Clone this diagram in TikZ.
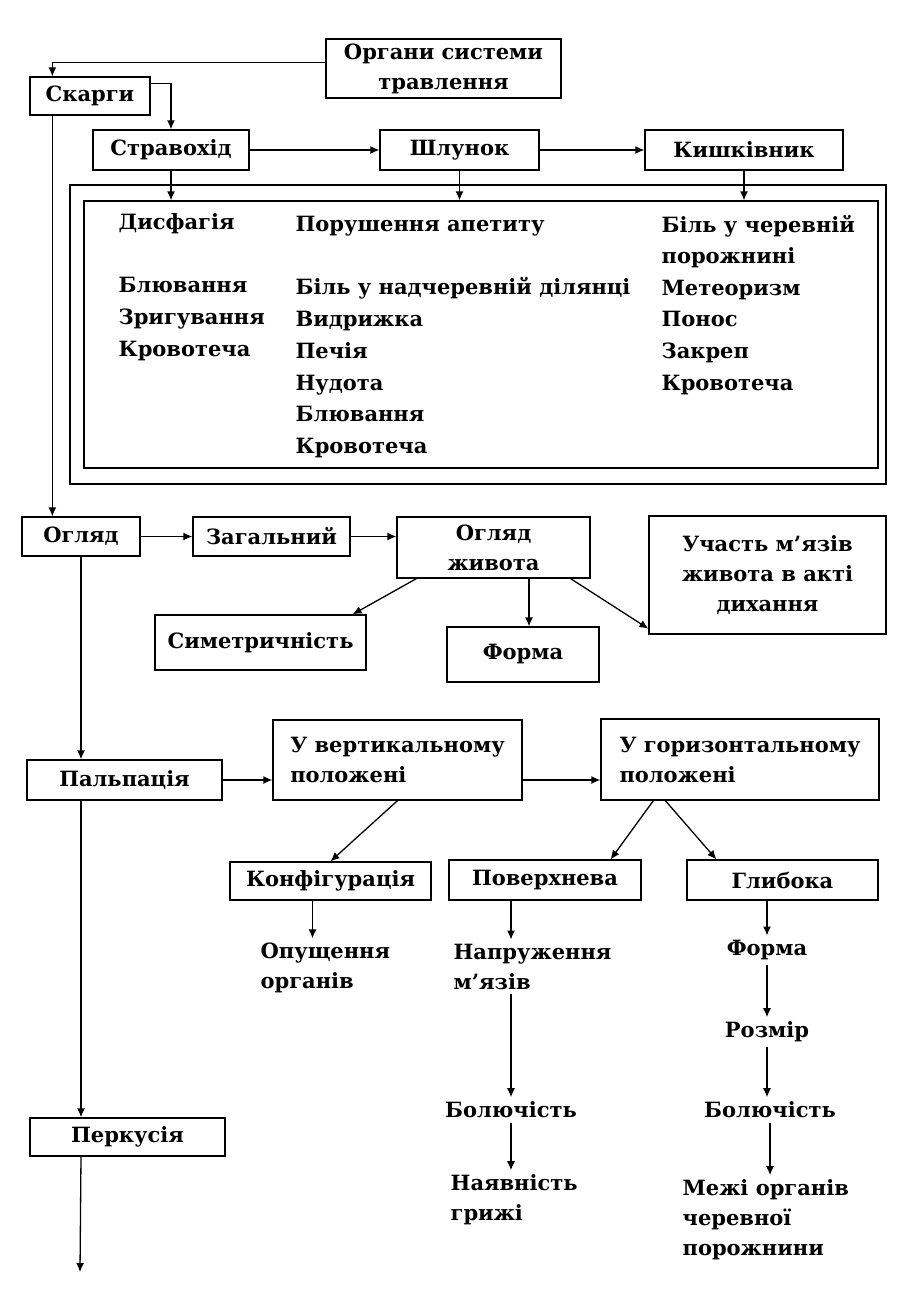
\documentclass[tikz,border=0pt]{standalone}
\usepackage{fontspec}
\setmainfont{DejaVu Serif}
\usetikzlibrary{positioning,calc,arrows.meta}
\tikzset{
my font/.style={font=\bfseries\fontsize{10.5}{15}\selectfont},
my box/.style 2 args={draw,my font,align=center,minimum width=#1*0.5pt,minimum height=#2*0.5pt,inner sep=0pt},
my text/.style={my font,align=left,inner sep=2pt},
my line/.style={my font,inner sep=0pt,anchor=base west},
diagram/.style={
  x=0.5pt,y=-0.5pt,
  line width=0.65pt,
  >={Latex[length=4.5pt,width=4pt]}
}
}
\begin{document}
\begin{tikzpicture}[diagram]
\useasboundingbox (0,0) rectangle (912,1296);

% complaints
\node[my box={235}{59}]  (organy)  at (443.5,68.5) {Органи системи\\травлення};
\node[my box={120}{38}]  (skarhy)  at (90,96)      {Скарги};
\node[my box={156}{40}]  (strav)   at (171,150)    {Стравохід};
\node[my box={159}{40}]  (shlunok) at (459.5,150)  {Шлунок};
\node[my box={198}{40}]  (kyshk)   at (744,150)    {Кишківник};
\node[draw,minimum width=408pt,minimum height=149.5pt] (outer) at (478,334.5) {};
\node[draw,minimum width=397pt,minimum height=133.5pt] (inner) at (481,334.5) {};

\foreach \n/\t in {0/Дисфагія,2/Блювання,3/Зригування,4/Кровотеча}
  \node[my line] (stravtxt-\n) at (118,{229+31.8*\n}) {\t};
\foreach \n/\t in {0/Порушення апетиту,2/Біль у надчеревній ділянці,3/Видрижка,4/Печія,5/Нудота,6/Блювання,7/Кровотеча}
  \node[my line] (shltxt-\n) at (295,{231+31.8*\n}) {\t};
\foreach \n/\t in {0/Біль у черевній,1/порожнині,2/Метеоризм,3/Понос,4/Закреп,5/Кровотеча}
  \node[my line] (kyshtxt-\n) at (661,{232+31.6*\n}) {\t};

\coordinate (spine) at ($(skarhy.south west)+(23,0)$);
\draw[->] ($(organy.west)+(0,-6)$) -| ($(skarhy.north west)+(23,0)$);
\draw[->] ($(skarhy.north east)+(0,7)$) -| (strav.north);
\draw[->] (strav) -- (shlunok);
\draw[->] (shlunok) -- (kyshk);
\draw[->] (strav.south) -- (strav.south |- inner.north);
\draw[->] (shlunok.south) -- (shlunok.south |- inner.north);
\draw[->] (kyshk.south) -- (kyshk.south |- inner.north);

% inspection
\node[my box={118}{39}]  (ohlyad) at (81,536.5)    {Огляд};
\node[my box={157}{39}]  (zahal)  at (271.5,536.5) {Загальний};
\node[my box={193}{61}]  (zhyvit) at (493.5,547.5) {Огляд\\живота};
\node[my box={237}{118}] (uchast) at (767.5,575)   {Участь м’язів\\живота в акті\\дихання};
\node[my box={211}{55}]  (symetr) at (260.5,642.5) {Симетричність};
\node[my box={152}{55}]  (forma)  at (523,654.5)   {Форма};

\draw[->] (spine) -- (spine |- ohlyad.north);
\draw[->] (ohlyad) -- (zahal);
\draw[->] (zahal.east) -- (zahal.east -| zhyvit.west);
\draw[->] ($(zhyvit.south west)+(20,0)$) -- ($(symetr.north east)+(-14,0)$);
\draw[->] ($(forma.north |- zhyvit.south)+(6,0)$) -- ($(forma.north)+(6,0)$);
\draw[->] ($(zhyvit.south east)+(-20,0)$) -- ($(uchast.south west)+(0,-6)$);

% palpation
\node[my box={195}{40}]  (palp)    at (124.5,780)  {Пальпація};
\node[my box={249}{80},align=left]  (vert)  at (397.5,760) {У вертикальному\\положені};
\node[my box={278}{81},align=left]  (horiz) at (740,759.5) {У горизонтальному\\положені};
\node[my box={201}{38}]  (konf)    at (330.5,881)  {Конфігурація};
\node[my box={192}{40}]  (poverkh) at (545,880)    {Поверхнева};
\node[my box={191}{40}]  (hlyb)    at (782.5,880)  {Глибока};

\node[my text,anchor=west] (opushch)  at (256,968)  {Опущення\\органів};
\node[my text,anchor=west] (naprug)   at (449,967)  {Напруження\\м’язів};
\node[my text]             (bolyuch1) at (511,1110) {Болючість};
\node[my text,anchor=west] (nayavn)   at (446,1200) {Наявність\\грижі};
\node[my text]             (hforma)   at (767,950)  {Форма};
\node[my text]             (rozmir)   at (767,1032) {Розмір};
\node[my text]             (bolyuch2) at (770,1110) {Болючість};
\node[my text,anchor=west] (mezhi)    at (678,1220) {Межі органів\\черевної\\порожнини};

\draw[->] (ohlyad.south) -- (ohlyad.south |- palp.north);
\draw[->] (palp.east) -- (palp.east -| vert.west);
\draw[->] (vert.east |- palp.east) -- (horiz.west |- palp.east);
\draw[->] (vert.south) -- (konf.north);
\draw[->] ($(horiz.south west)+(53,0)$) -- ($(poverkh.north east)+(-31,0)$);
\draw[->] ($(horiz.south west)+(65,0)$) -- ($(hlyb.north west)+(30,0)$);
\draw[->] ($(konf.south)+(-18,0)$) -- ($(konf.south |- opushch.north)+(-18,0)$);
\draw[->] (bolyuch1.north |- poverkh.south) -- (bolyuch1.north |- naprug.north);
\draw[->] (bolyuch1.north |- naprug.south) -- (bolyuch1.north);
\draw[->] (bolyuch1.south) -- (bolyuch1.south |- nayavn.north);
\draw[->] (hforma.north |- hlyb.south) -- (hforma.north);
\draw[->] (hforma) -- (rozmir);
\draw[->] (rozmir.south) -- (rozmir.south |- bolyuch2.north);
\draw[->] (bolyuch2.south) -- (bolyuch2.south |- mezhi.north);

% percussion
\node[my box={195}{38}]  (perk) at (127.5,1137) {Перкусія};
\coordinate (end) at (80,1272);
\draw[->] (ohlyad.south |- palp.south) -- (ohlyad.south |- perk.north);
\draw[->] (ohlyad.south |- perk.south) -- (end);
\end{tikzpicture}
\end{document}
